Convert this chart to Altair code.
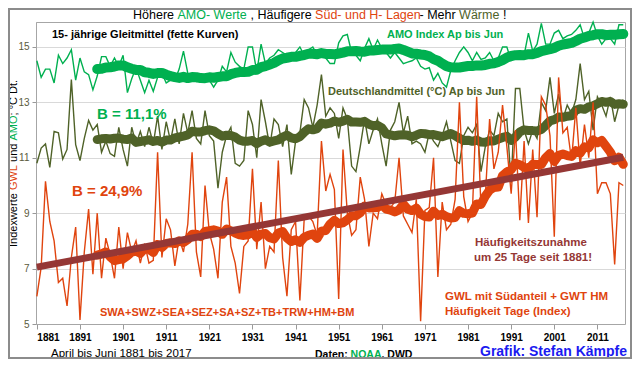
import altair as alt
import pandas as pd

# ---------------- data ----------------
YEARS = list(range(1881, 2018))

AMO = [
    14.5, 13.9, 14.2, 14.2, 13.7, 14.7, 14.4, 14.6, 14.9, 13.8,
    14.6, 14.1, 14.0, 13.45, 13.95, 14.65, 14.65, 14.3, 14.6, 14.3,
    14.7, 13.35, 13.85, 14.25, 13.8, 13.35, 13.8, 13.4, 13.9, 14.05,
    13.7, 13.8, 13.8, 14.2, 14.85, 14.05, 13.9, 13.75, 13.8, 13.75,
    13.8, 13.55, 13.8, 14.3, 14.1, 14.8, 14.45, 14.3, 14.2, 15.0,
    15.0, 14.1, 15.1, 14.4, 14.6, 14.7, 14.9, 14.8, 14.7, 14.6,
    14.8, 15.0, 14.7, 14.9, 15.0, 14.7, 14.8, 14.6, 14.4, 14.4,
    15.15, 15.4, 15.45, 14.8, 14.7, 14.5, 14.95, 15.3, 14.9, 15.25,
    14.95, 14.8, 14.6, 14.8, 14.6, 14.4, 14.45, 14.5, 14.6, 14.3,
    14.2, 14.25, 13.8, 14.05, 13.7, 13.55, 14.15, 14.5, 14.8, 15.0,
    14.8, 14.5, 14.8, 14.55, 14.6, 14.8, 14.5, 14.6, 15.0, 15.0,
    14.5, 14.6, 14.6, 14.7, 15.5, 14.85, 15.1, 15.85, 15.1, 15.1,
    15.5, 15.6, 15.3, 15.4, 15.45, 15.6, 15.8, 15.3, 15.5, 15.9,
    15.4, 15.1, 15.3, 15.3, 15.1, 15.8, 15.8,
]

DT = [
    10.8, 11.35, 11.5, 10.65, 11.95, 11.9, 10.95, 11.3, 13.82, 11.47,
    10.9, 11.7, 12.35, 12.0, 12.2, 11.2, 11.6, 11.15, 11.05, 12.1,
    11.3, 10.7, 12.1, 11.5, 11.95, 11.4, 12.1, 11.5, 12.5, 11.3,
    12.3, 11.6, 12.4, 11.5, 12.6, 11.9, 12.7, 11.7, 11.5, 12.7,
    11.8, 11.6, 9.9, 11.2, 11.8, 12.1, 10.8, 10.7, 10.9, 12.7,
    12.2, 11.0, 13.1, 12.3, 11.4, 12.4, 12.2, 11.4, 12.2, 10.4,
    11.6, 11.9, 13.1, 12.8, 12.1, 12.9, 14.0, 12.5, 12.8, 12.6,
    11.7, 12.8, 12.4, 10.7, 10.5, 11.4, 12.4, 11.5, 12.0, 12.4,
    11.5, 10.7, 12.0, 12.3, 13.0, 11.9, 12.5, 11.5, 11.6, 11.5,
    11.2, 11.9, 11.6, 11.4, 11.8, 12.3, 11.6, 10.9, 10.8, 11.8,
    12.1, 11.9, 12.2, 10.5, 11.4, 12.0, 11.8, 12.6, 12.3, 12.4,
    10.1, 13.5, 13.5, 12.0, 11.5, 12.0, 11.7, 13.0, 12.7, 13.9,
    12.6, 13.3, 12.4, 12.9, 12.6, 13.1, 14.4, 13.1, 13.4, 12.0,
    13.2, 12.9, 12.5, 13.2, 12.3, 12.9, 13.1,
]

GWL = [
    6.0, 7.05, 10.15, 8.7, 8.0, 6.5, 6.65, 5.65, 7.4, 8.5,
    5.15, 7.6, 9.15, 6.8, 9.0, 6.65, 8.1, 7.5, 6.65, 8.5,
    7.0, 8.3, 7.6, 8.0, 7.2, 7.9, 7.2, 7.3, 11.2, 7.4,
    8.8, 8.4, 7.1, 8.1, 7.6, 8.6, 11.2, 7.6, 6.7, 10.0,
    8.3, 7.7, 6.65, 9.4, 10.3, 7.8, 7.2, 6.1, 7.8, 8.0,
    10.6, 7.7, 9.4, 7.0, 7.8, 7.6, 10.9, 7.4, 6.0, 8.4,
    8.7, 5.85, 8.8, 8.9, 8.7, 8.2, 11.6, 9.8, 10.4, 9.85,
    5.9, 11.3, 9.0, 8.2, 8.4, 10.3, 9.5, 7.8, 9.0, 8.8,
    9.7, 9.3, 9.2, 9.4, 11.0, 8.9, 8.6, 8.3, 9.5, 5.1,
    9.1, 9.2, 11.0, 6.7, 9.4, 8.4, 8.6, 9.5, 13.0, 9.6,
    8.7, 9.0, 13.2, 9.2, 9.6, 12.4, 10.6, 11.2, 12.9, 11.4,
    9.7, 12.0, 8.75, 11.6, 8.65, 11.3, 8.85, 13.2, 12.9, 11.8,
    8.15, 13.9, 11.9, 12.1, 10.9, 12.8, 10.7, 12.2, 11.0, 13.0,
    9.7, 10.1, 10.1, 9.7, 7.15, 10.1, 10.0,
]

X_TICKS = list(range(1881, 2012, 10))
Y_TICKS = [5, 7, 9, 11, 13, 15]
WINDOW = 15

df = pd.DataFrame({"year": YEARS, "amo": AMO, "dt": DT, "gwl": GWL})

# ---------------- styling ----------------
FONT = "Liberation Sans"
GREEN = "#00B050"
OLIVE = "#4F6228"
ORANGE = "#E0440E"
BROWN = "#953735"
BLUE = "#1A1AF0"

# plot area position on the page (page margin 8px included)
OX, OY = 36, 22
PLOT_W, PLOT_H = 589, 302

xs = alt.Scale(domain=[1880.8, 2017.4], nice=False, zero=False)
ys = alt.Scale(domain=[5, 15.9], nice=False, zero=False)

xaxis = alt.Axis(values=X_TICKS, format="d", title=None, grid=False,
                 labelFont=FONT, labelFontWeight="bold", labelFontSize=10,
                 labelColor="black", tickColor="#999999", tickSize=5,
                 domainColor="#A6A6A6", labelPadding=3)
yaxis = alt.Axis(values=Y_TICKS, title=None, grid=True, gridColor="#D9D9D9",
                 labelFont=FONT, labelFontSize=10, labelColor="#5A5A3C",
                 tickColor="#999999", tickSize=4, domainColor="#A6A6A6",
                 labelPadding=3)

X = alt.X("year:Q", scale=xs, axis=xaxis)


def Y(field):
    return alt.Y(f"{field}:Q", scale=ys, axis=yaxis)


base = alt.Chart(df)


def raw(field, color):
    return base.mark_line(color=color, strokeWidth=1.4).encode(x=X, y=Y(field))


def smooth(field, color, width):
    return (
        base.transform_window(ma=f"mean({field})", n="count()",
                              frame=[-(WINDOW - 1), 0],
                              sort=[alt.SortField("year")])
        .transform_filter(f"datum.n >= {WINDOW}")
        .mark_line(color=color, strokeWidth=width, strokeCap="round",
                   strokeJoin="round")
        .encode(x=X, y=alt.Y("ma:Q", scale=ys, axis=yaxis))
    )


trend = (
    base.transform_regression("year", "gwl", method="linear")
    .mark_line(color=BROWN, strokeWidth=7)
    .encode(x=X, y=Y("gwl"))
)


def label(s, px, py, size, color, weight="bold", angle=None):
    """Text placed at page coordinates (px, py)."""
    kw = dict(align="left", baseline="middle", fontSize=size,
              fontWeight=weight, color=color, font=FONT)
    if angle is not None:
        kw["angle"] = angle
    return alt.Chart(alt.InlineData(values=[{"t": s}])).mark_text(**kw).encode(
        x=alt.value(px - OX), y=alt.value(py - OY), text="t:N")


TY = 15
texts = [
    # title (multi-coloured)
    label("Höhere", 133, TY, 12.5, "black", "normal"),
    label("AMO- Werte", 177.5, TY, 12.5, GREEN, "normal"),
    label(", Häufigere", 250.5, TY, 12.5, "black", "normal"),
    label("Süd- und H- Lagen", 315.1, TY, 12.5, ORANGE, "normal"),
    label("- Mehr", 419.5, TY, 12.5, "black", "normal"),
    label("Wärme", 459.1, TY, 12.5, OLIVE, "normal"),
    label("!", 502.9, TY, 12.5, "black", "normal"),
    # y axis title (multi-coloured, rotated)
    label("Indexwerte", 14, 247, 11, "black", "normal", 270),
    label("GWL", 14, 190.1, 11, ORANGE, "normal", 270),
    label("und", 14, 161.9, 11, "black", "normal", 270),
    label("AMO", 14, 140.5, 11, GREEN, "normal", 270),
    label("; °C Dt.", 14, 115.4, 11, "black", "normal", 270),
    # annotations in the plot
    label("15- jährige Gleitmittel (fette Kurven)", 52, 35, 11, "black"),
    label("AMO Index Ap bis Jun", 387, 35, 11, GREEN),
    label("B = 11,1%", 97, 114, 15, GREEN),
    label("Deutschlandmittel (°C) Ap bis Jun", 328, 92, 11, OLIVE),
    label("B = 24,9%", 72, 191, 15, ORANGE),
    label("Häufigkeitszunahme", 475, 243, 11.5, BROWN),
    label("um 25 Tage seit 1881!", 474, 258, 11.5, BROWN),
    label("SWA+SWZ+SEA+SEZ+SA+SZ+TB+TRW+HM+BM", 100, 313, 11, ORANGE),
    label("GWL mit Südanteil + GWT HM", 445, 297, 11.5, ORANGE),
    label("Häufigkeit Tage (Index)", 445, 312, 11.5, ORANGE),
    # footer
    label("April bis Juni 1881 bis 2017", 51, 354, 11.5, "black", "normal"),
    label("Daten:", 315, 355, 10.5, "black"),
    label("NOAA", 350.6, 355, 10.5, GREEN),
    label(", DWD", 381.5, 355, 10.5, "black"),
    label("Grafik: Stefan Kämpfe", 480, 352, 14, BLUE),
]

frame = alt.Chart(alt.InlineData(values=[{"a": 1}])).mark_rect(
    fill="white", fillOpacity=0, stroke="#8C8C8C", strokeWidth=2
).encode(x=alt.value(9 - OX), x2=alt.value(631 - OX),
         y=alt.value(9 - OY), y2=alt.value(358 - OY))

chart = alt.layer(
    raw("amo", GREEN),
    smooth("amo", GREEN, 10),
    raw("dt", OLIVE),
    smooth("dt", OLIVE, 9),
    raw("gwl", ORANGE),
    smooth("gwl", ORANGE, 9),
    trend,
    *texts,
    frame,
).properties(
    width=PLOT_W, height=PLOT_H,
    padding={"left": OX - 8, "top": OY - 8, "right": 7, "bottom": 35},
    autosize=alt.AutoSizeParams(type="none"),
    background="white",
).configure_view(stroke="#A6A6A6", strokeWidth=1)

chart.save("out.html", embed_options={"renderer": "svg", "actions": False})
